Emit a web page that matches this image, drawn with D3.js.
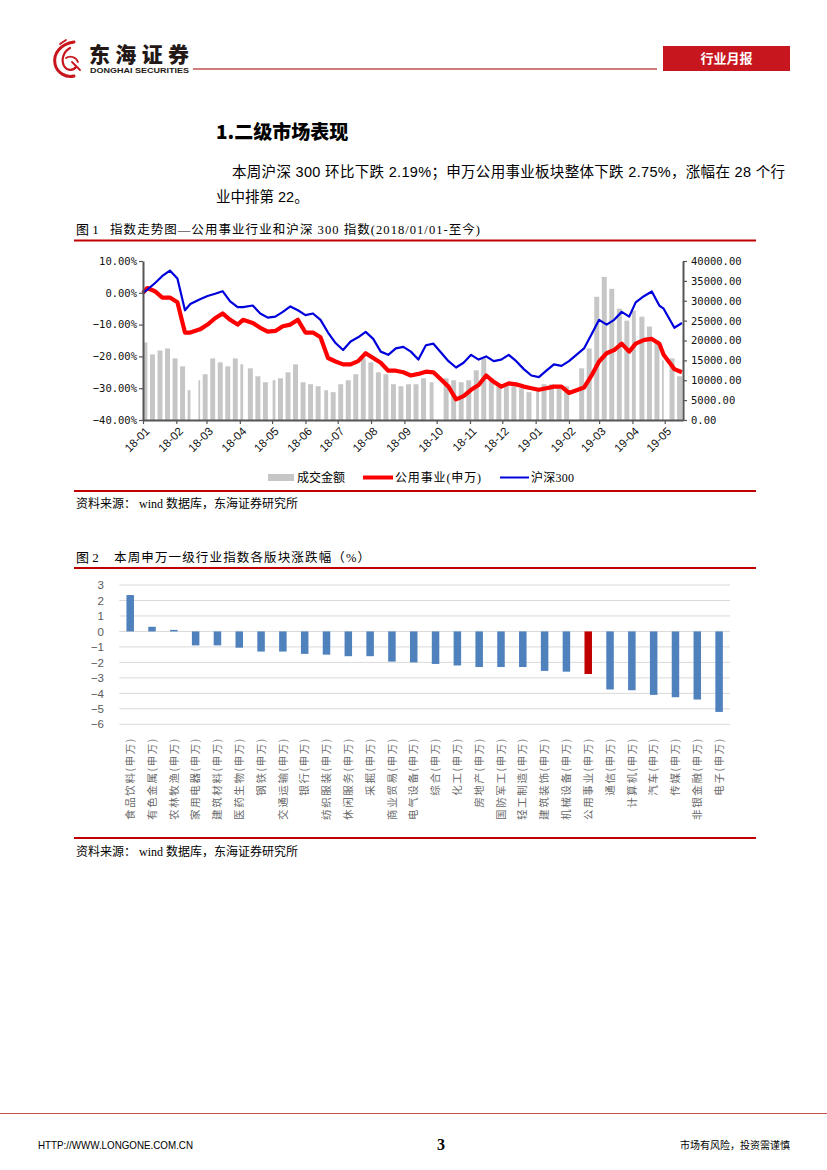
<!DOCTYPE html>
<html><head><meta charset="utf-8">
<script src="https://cdn.jsdelivr.net/npm/d3@7"></script>
<style>
html,body{margin:0;padding:0;background:#fff;}
svg{display:block;}
</style></head><body>
<svg id="page" width="827" height="1170"></svg>
<script>
// ---------------- DATA ----------------
// Figure 1: weekly (last trading day of week)
const dates = ["2018-01-05","2018-01-12","2018-01-19","2018-01-26","2018-02-02","2018-02-09","2018-02-14","2018-02-23","2018-03-02","2018-03-09","2018-03-16","2018-03-23","2018-03-30","2018-04-04","2018-04-13","2018-04-20","2018-04-27","2018-05-04","2018-05-11","2018-05-18","2018-05-25","2018-06-01","2018-06-08","2018-06-15","2018-06-22","2018-06-29","2018-07-06","2018-07-13","2018-07-20","2018-07-27","2018-08-03","2018-08-10","2018-08-17","2018-08-24","2018-08-31","2018-09-07","2018-09-14","2018-09-21","2018-09-28","2018-10-12","2018-10-19","2018-10-26","2018-11-02","2018-11-09","2018-11-16","2018-11-23","2018-11-30","2018-12-07","2018-12-14","2018-12-21","2018-12-28",
"2019-01-04","2019-01-11","2019-01-18","2019-01-25","2019-02-01","2019-02-15","2019-02-22","2019-03-01","2019-03-08","2019-03-15","2019-03-22","2019-03-29","2019-04-04","2019-04-12","2019-04-19","2019-04-26","2019-04-30","2019-05-10","2019-05-17"];
const tradingDays = [4,5,5,5,5,5,3,2,5,5,5,5,5,3,5,5,5,3,5,5,5,5,5,5,4,5,5,5,5,5,5,5,5,5,5,5,5,5,4,5,5,5,5,5,5,5,5,5,5,5,5,
3,5,5,5,5,5,5,5,5,5,5,5,4,5,5,5,2,5,5];
const baseDate = "2018-01-01";
const baseValue = 0;
const hs300 = [1.0,3.0,5.3,7.0,4.5,-5.5,-3.5,-2.0,-1.0,-0.3,0.5,-2.7,-4.5,-4.5,-4.0,-6.5,-7.8,-7.5,-6.0,-4.3,-5.5,-7.0,-6.5,-8.5,-12.5,-15.8,-18.0,-15.3,-14.0,-12.3,-14.5,-18.5,-19.5,-17.5,-17.0,-18.5,-21.0,-16.5,-16.0,-21.5,-23.5,-22.0,-19.5,-21.0,-20.0,-21.5,-21.0,-19.5,-21.5,-24.0,-26.0,
-26.5,-24.5,-22.5,-23.0,-21.5,-17.5,-13.0,-8.5,-10.0,-8.5,-6.0,-7.5,-3.0,-1.0,0.4,-4.0,-5.0,-11.0,-9.5];
const utilities = [1.5,0.5,-1.5,-1.5,-3.0,-12.5,-12.5,-11.5,-10.0,-8.0,-6.5,-8.5,-10.0,-8.5,-9.5,-11.0,-12.2,-12.0,-10.5,-10.0,-8.5,-12.5,-12.5,-14.0,-20.5,-21.6,-22.5,-22.5,-21.5,-19.0,-20.5,-22.0,-24.5,-24.5,-25.0,-26.0,-25.5,-24.8,-25.0,-29.5,-33.5,-32.5,-30.5,-29.0,-26.0,-28.0,-29.5,-28.5,-28.8,-29.5,-30.0,
-30.5,-30.0,-29.5,-29.5,-31.5,-29.8,-26.0,-21.6,-19.0,-18.0,-16.0,-18.5,-16.0,-14.8,-14.5,-16.0,-19.5,-24.0,-25.0];
const turnover = [19500,16500,17500,18000,15500,13500,7500,10000,11500,15500,14500,13500,15500,14000,13000,11000,9500,10000,10500,12000,14000,9500,9000,8500,7500,7000,9000,10000,11500,15500,14500,12000,11500,9000,8500,9000,9000,10500,9500,10500,10000,9500,10000,12500,15500,10500,8500,9000,8500,8000,7000,
8000,9000,9000,8500,8500,13000,18000,31000,36000,33000,28000,25000,27500,26000,23500,20000,15000,15500,11000];
const fig1LeftTicks = [10,0,-10,-20,-30,-40];
const fig1RightTicks = [40000,35000,30000,25000,20000,15000,10000,5000,0];
const fig1Domain = ["2018-01-01","2019-05-18"];
const fig1SeriesNames = ["成交金额","公用事业(申万)","沪深300"];

// Figure 2
const industries = ["食品饮料(申万)","有色金属(申万)","农林牧渔(申万)","家用电器(申万)","建筑材料(申万)","医药生物(申万)","钢铁(申万)","交通运输(申万)","银行(申万)","纺织服装(申万)","休闲服务(申万)","采掘(申万)","商业贸易(申万)","电气设备(申万)","综合(申万)","化工(申万)","房地产(申万)","国防军工(申万)","轻工制造(申万)","建筑装饰(申万)","机械设备(申万)","公用事业(申万)","通信(申万)","计算机(申万)","汽车(申万)","传媒(申万)","非银金融(申万)","电子(申万)"];
const weeklyChange = [2.35,0.3,0.1,-0.9,-0.9,-1.05,-1.3,-1.3,-1.45,-1.5,-1.6,-1.6,-1.95,-2.0,-2.1,-2.2,-2.3,-2.3,-2.3,-2.55,-2.6,-2.75,-3.75,-3.8,-4.1,-4.25,-4.4,-5.2];
const fig2Ticks = [3,2,1,0,-1,-2,-3,-4,-5,-6];
const highlightIndustry = "公用事业(申万)";

// ---------------- DRAW ----------------
const svg = d3.select("#page");
const RED = "#c00000";
const serif = "'Liberation Serif','Noto Sans CJK SC',serif";
const sansMix = "'Liberation Sans','Noto Sans CJK SC',sans-serif";
const cjk = "'Noto Sans CJK SC',sans-serif";
const RULE_X1 = 74, RULE_X2 = 756;

// Header
const logo = svg.append("g").attr("fill","none").attr("stroke","#c8161e").attr("stroke-linecap","round");
logo.append("path").attr("d","M74,42 C60,44 53,54 55,64 C57,73 66,78 74,76").attr("stroke-width",3);
logo.append("path").attr("d","M70,48 C63,52 61,60 64,66 C67,71 73,71 76,67").attr("stroke-width",2.2);
logo.append("path").attr("d","M66,58 C70,55 76,57 78,62 M72,62 L80,70 M60,44 L66,40").attr("stroke-width",1.8);
svg.append("text").attr("x",89).attr("y",62).attr("font-family",cjk).attr("font-weight",900)
  .attr("font-size",21).attr("textLength",100).attr("lengthAdjust","spacing").attr("fill","#231815").text("东海证券");
svg.append("text").attr("x",90).attr("y",73).attr("font-family","'Liberation Sans',sans-serif").attr("font-weight",700)
  .attr("font-size",7.5).attr("textLength",99).attr("lengthAdjust","spacingAndGlyphs").attr("fill","#231815").text("DONGHAI SECURITIES");
svg.append("line").attr("x1",193).attr("x2",657).attr("y1",69).attr("y2",69).attr("stroke","#c0504d").attr("stroke-width",1.5);
svg.append("rect").attr("x",663).attr("y",46).attr("width",127).attr("height",25).attr("fill","#c8161e");
svg.append("text").attr("x",726.5).attr("y",63).attr("text-anchor","middle").attr("font-family",cjk).attr("font-weight",700)
  .attr("font-size",13).attr("fill","#fff").text("行业月报");

// Section title & paragraph
svg.append("text").attr("x",216).attr("y",139).attr("font-family",cjk).attr("font-weight",900).attr("font-size",19)
  .attr("fill","#000").text("1.二级市场表现");
svg.append("text").attr("x",232).attr("y",177).attr("font-family",sansMix).attr("font-size",14.5)
  .attr("textLength",553).attr("lengthAdjust","spacing").attr("fill","#000")
  .text("本周沪深 300 环比下跌 2.19%；申万公用事业板块整体下跌 2.75%，涨幅在 28 个行");
svg.append("text").attr("x",216).attr("y",202).attr("font-family",sansMix).attr("font-size",14.5).attr("fill","#000")
  .text("业中排第 22。");

// Figure 1 title
svg.append("text").attr("x",76).attr("y",234).attr("font-family",serif).attr("font-size",13).attr("fill","#000")
  .text("图 1");
svg.append("text").attr("x",110).attr("y",234).attr("font-family",serif).attr("font-size",12.5).attr("fill","#000")
  .attr("textLength",370).attr("lengthAdjust","spacing")
  .text("指数走势图—公用事业行业和沪深 300 指数(2018/01/01-至今)");
svg.append("line").attr("x1",RULE_X1).attr("x2",RULE_X2).attr("y1",240.5).attr("y2",240.5).attr("stroke",RED).attr("stroke-width",2);

// Figure 1 chart
const parse = d3.timeParse("%Y-%m-%d");
const x1 = d3.scaleTime().domain(fig1Domain.map(parse)).range([143, 683]);
const yL = d3.scaleLinear().domain([-40, 10]).range([420, 261]);
const yR = d3.scaleLinear().domain([0, 40000]).range([420, 261]);
const dayPx = x1(parse("2018-01-02")) - x1(parse("2018-01-01"));

const c1 = svg.append("g");
c1.append("g").selectAll("rect").data(dates.map((d,i)=>({end:parse(d),n:tradingDays[i],v:turnover[i]})))
  .join("rect")
  .attr("x", d => x1(d3.timeDay.offset(d.end, -(d.n-1))) - dayPx*0.5)
  .attr("width", d => x1(d.end) - x1(d3.timeDay.offset(d.end, -(d.n-1))) + dayPx*0.6)
  .attr("y", d => yR(d.v))
  .attr("height", d => yR(0) - yR(d.v))
  .attr("fill", "#c6c6c6");

const ptsU = [{d:parse(baseDate),v:baseValue}].concat(dates.map((d,i)=>({d:parse(d),v:utilities[i]})));
const ptsH = [{d:parse(baseDate),v:baseValue}].concat(dates.map((d,i)=>({d:parse(d),v:hs300[i]})));
const line1 = d3.line().x(p=>x1(p.d)).y(p=>yL(p.v));
c1.append("path").attr("d",line1(ptsU)).attr("fill","none").attr("stroke","#ff0000").attr("stroke-width",4.2).attr("stroke-linejoin","round");
c1.append("path").attr("d",line1(ptsH)).attr("fill","none").attr("stroke","#0000dd").attr("stroke-width",2.2).attr("stroke-linejoin","round");

const axisColor = "#555";
const gL = c1.append("g").attr("transform","translate(143,0)")
  .call(d3.axisLeft(yL).tickValues(fig1LeftTicks).tickSize(4).tickSizeOuter(0).tickFormat(d=>d3.format(".2f")(d)+"%"));
const gR = c1.append("g").attr("transform","translate(683,0)")
  .call(d3.axisRight(yR).tickValues(fig1RightTicks).tickSize(4).tickSizeOuter(0).tickFormat(d3.format(".2f")));
const months = d3.timeMonth.range(parse("2018-01-01"), parse("2019-05-02"));
const gB = c1.append("g").attr("transform","translate(0,420)")
  .call(d3.axisBottom(x1).tickValues(months).tickSize(4).tickSizeOuter(0).tickFormat(d3.timeFormat("%y-%m")));
[gL,gR,gB].forEach(g=>{
  g.select(".domain").attr("stroke",axisColor).attr("stroke-width",2);
  g.selectAll(".tick line").attr("stroke",axisColor).attr("stroke-width",1.2);
});
gL.selectAll("text").attr("font-family","'DejaVu Sans Mono',monospace").attr("font-size",10.5).attr("fill","#111").attr("x",-6);
gR.selectAll("text").attr("font-family","'DejaVu Sans Mono',monospace").attr("font-size",10.5).attr("fill","#111").attr("x",8);
gB.selectAll("text").attr("font-family","'Liberation Sans',sans-serif").attr("font-size",11.5).attr("fill","#111")
  .attr("text-anchor","end").attr("y",0).attr("dy","0.35em")
  .attr("transform","translate(4,9) rotate(-45)");

// Legend
const lg = svg.append("g").attr("font-family",serif).attr("font-size",12).attr("fill","#000");
lg.append("rect").attr("x",268).attr("y",474).attr("width",26).attr("height",7).attr("fill","#c6c6c6");
lg.append("text").attr("x",297).attr("y",482).attr("textLength",48).attr("lengthAdjust","spacing").text(fig1SeriesNames[0]);
lg.append("line").attr("x1",363).attr("x2",393).attr("y1",477.5).attr("y2",477.5).attr("stroke","#ff0000").attr("stroke-width",4);
lg.append("text").attr("x",395).attr("y",482).attr("textLength",86).attr("lengthAdjust","spacing").text(fig1SeriesNames[1]);
lg.append("line").attr("x1",500).attr("x2",529).attr("y1",477.5).attr("y2",477.5).attr("stroke","#0000dd").attr("stroke-width",2);
lg.append("text").attr("x",531).attr("y",482).attr("textLength",43).attr("lengthAdjust","spacing").text(fig1SeriesNames[2]);

svg.append("line").attr("x1",RULE_X1).attr("x2",RULE_X2).attr("y1",491).attr("y2",491).attr("stroke",RED).attr("stroke-width",2);
svg.append("text").attr("x",76).attr("y",508).attr("font-family",serif).attr("font-size",12).attr("fill","#000")
  .text("资料来源：  wind 数据库，东海证券研究所");

// Figure 2 title
svg.append("text").attr("x",76).attr("y",562).attr("font-family",serif).attr("font-size",13).attr("fill","#000")
  .text("图 2");
svg.append("text").attr("x",114).attr("y",562).attr("font-family",serif).attr("font-size",12.5).attr("fill","#000")
  .attr("textLength",256).attr("lengthAdjust","spacing")
  .text("本周申万一级行业指数各版块涨跌幅（%）");
svg.append("line").attr("x1",RULE_X1).attr("x2",RULE_X2).attr("y1",568).attr("y2",568).attr("stroke",RED).attr("stroke-width",2);

// Figure 2 chart
const x2 = d3.scaleBand().domain(industries).range([119.3, 730]).paddingInner(0.656).paddingOuter(0.328);
const y2 = d3.scaleLinear().domain([-6, 3]).range([724.3, 585]);
const c2 = svg.append("g");
c2.append("g").selectAll("line").data(fig2Ticks).join("line")
  .attr("x1",119.3).attr("x2",730).attr("y1",d=>y2(d)).attr("y2",d=>y2(d))
  .attr("stroke","#d9d9d9").attr("stroke-width",1);
const gY2 = c2.append("g").attr("transform","translate(119,0)")
  .call(d3.axisLeft(y2).tickValues(fig2Ticks).tickSize(0).tickFormat(d3.format("d")));
gY2.select(".domain").remove();
gY2.selectAll("text").attr("font-family","'Liberation Sans',sans-serif").attr("font-size",11.5).attr("fill","#595959").attr("x",-15);
c2.append("g").selectAll("rect").data(industries.map((n,i)=>({n,v:weeklyChange[i]}))).join("rect")
  .attr("x",d=>x2(d.n)).attr("width",x2.bandwidth())
  .attr("y",d=>y2(Math.max(0,d.v))).attr("height",d=>Math.abs(y2(d.v)-y2(0)))
  .attr("fill",d=>d.n===highlightIndustry ? "#c00000" : "#4f81bd");
c2.append("g").selectAll("text").data(industries).join("text")
  .attr("transform",d=>`translate(${x2(d)+x2.bandwidth()/2},737) rotate(-90)`)
  .attr("text-anchor","end").attr("dy","0.35em").attr("letter-spacing",1.6)
  .attr("font-family",cjk).attr("font-size",10.5).attr("fill","#6a6a6a").text(d=>d);

svg.append("line").attr("x1",RULE_X1).attr("x2",RULE_X2).attr("y1",838).attr("y2",838).attr("stroke",RED).attr("stroke-width",2);
svg.append("text").attr("x",76).attr("y",856).attr("font-family",serif).attr("font-size",12).attr("fill","#000")
  .text("资料来源：  wind 数据库，东海证券研究所");

// Footer
svg.append("line").attr("x1",0).attr("x2",827).attr("y1",1113.5).attr("y2",1113.5).attr("stroke","#c0504d").attr("stroke-width",1.2);
svg.append("text").attr("x",38).attr("y",1149).attr("font-family","'Liberation Sans Narrow','Liberation Sans',sans-serif")
  .attr("font-size",11).attr("textLength",155).attr("lengthAdjust","spacingAndGlyphs").attr("fill","#000").text("HTTP://WWW.LONGONE.COM.CN");
svg.append("text").attr("x",437).attr("y",1150).attr("font-family","'Liberation Serif',serif").attr("font-size",16)
  .attr("font-weight",700).attr("fill","#000").text("3");
svg.append("text").attr("x",680).attr("y",1149).attr("font-family",cjk).attr("font-size",10).attr("textLength",110)
  .attr("lengthAdjust","spacing").attr("fill","#000").text("市场有风险，投资需谨慎");
</script>
</body></html>
